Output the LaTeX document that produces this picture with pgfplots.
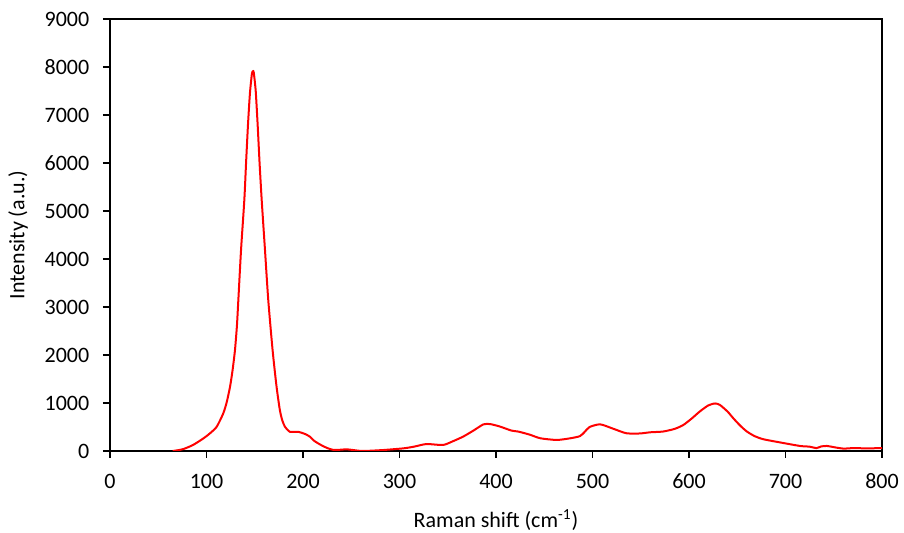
\documentclass[border=0pt]{standalone}
\usepackage{fontspec}
\setmainfont{Carlito}
\usepackage{pgfplots}
\pgfplotsset{compat=1.18}
\usetikzlibrary{calc}

\begin{document}
\fontsize{11pt}{13pt}\selectfont
\begin{tikzpicture}
\begin{axis}[
  scale only axis,
  width=386pt, height=216pt,
  xmin=0, xmax=800, ymin=0, ymax=9000,
  xtick={0,100,...,800}, ytick={0,1000,...,9000},
  tick pos=left,
  tick align=outside,
  major tick length=3.5pt,
  axis line style={line width=0.9pt},
  every tick/.style={black, line width=0.9pt},
  /pgf/number format/assume math mode=true,
  /pgf/number format/1000 sep={},
  tick label style={font=\fontsize{11pt}{13pt}\selectfont},
  yticklabel style={xshift=-3pt},
  xticklabel style={yshift=-4pt},
  xlabel={Raman shift (cm\textsuperscript{-1})},
  ylabel={Intensity (a.u.)},
  label style={font=\fontsize{11pt}{13pt}\selectfont},
  xlabel style={at={(axis description cs:0.5,-0.16)}, anchor=center},
  ylabel style={at={(axis description cs:-0.119,0.5)}, anchor=center, rotate=0},
]
\addplot[red, line width=1pt, smooth, tension=0.4] coordinates {
(65,0) (70,15) (76,40) (86,125) (97,265) (103.6,368) (110.6,506)
(117.4,785) (121,1020) (124.4,1340) (127,1680) (129.5,2100) (131.5,2600)
(133,3146) (135.8,4190) (139.2,5230) (141,6000) (143,6800) (145,7450)
(147,7850) (148,7910) (149,7880) (151,7500) (153,6800) (155,6000)
(157.2,5230) (160.6,4190) (164,3146) (168.5,2100) (172.6,1340) (176,855)
(178.5,640) (181.3,506) (186.5,400) (195,400) (202,355) (207,300)
(211,220) (216,155) (221,100) (226,55) (231,25) (238,25) (245,35) (252,20)
(262,0) (283,20) (304,55) (315,90) (328,145) (345,125) (355,200) (366,300)
(377,430) (387,555) (394,560) (404,510) (416,425) (423,405) (435,340)
(446,265) (463,230) (477,265) (487,310) (492,400) (497,500) (508,555)
(522,460) (535,370) (549,365) (560,390) (573,405) (585,460) (594,540)
(603,680) (611,820) (620,950) (627,990) (632,960) (640,820) (646,680)
(653,530) (660,405) (668,310) (677,245) (694,180) (715,105) (725,90)
(732,60) (737,95) (743,105) (750,80) (760,50) (770,60) (784,55) (800,60)
};
\end{axis}
\pgfresetboundingbox
\path ($(current axis.south west)+(-55pt,-41pt)$) rectangle ($(current axis.north east)+(11pt,9.5pt)$);
\end{tikzpicture}
\end{document}
